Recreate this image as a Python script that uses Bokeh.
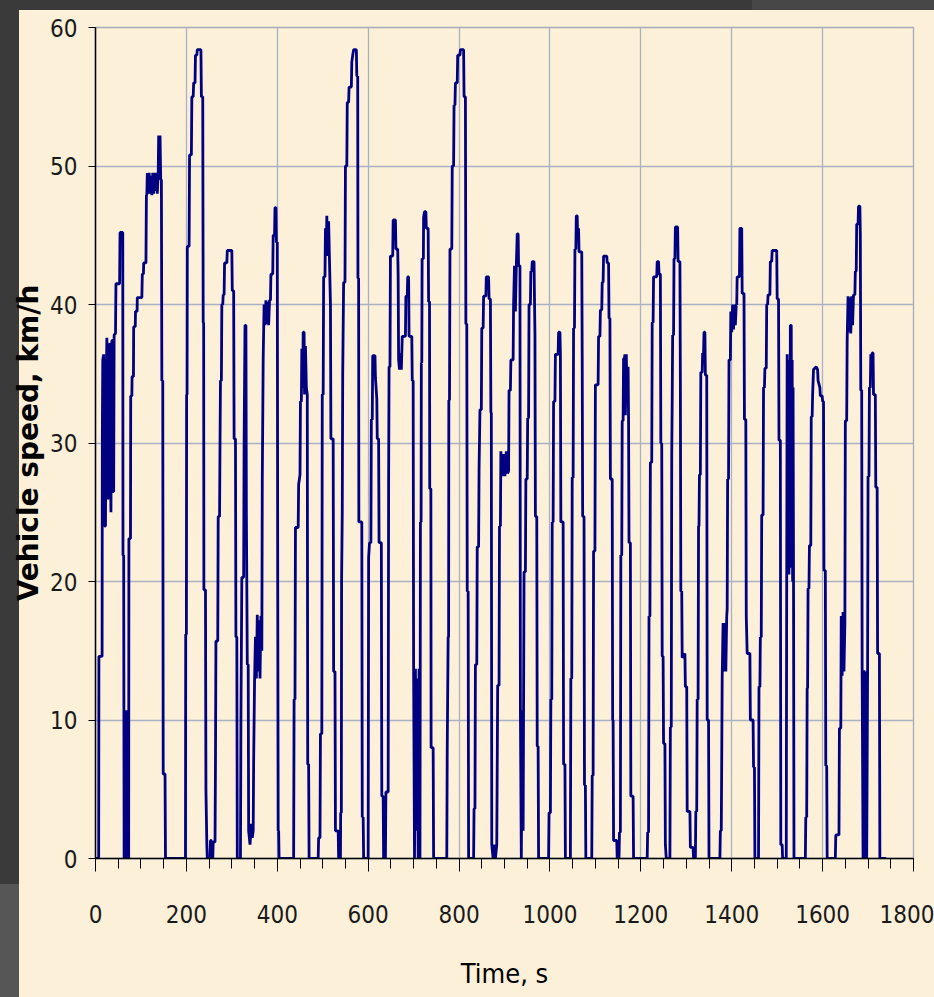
from bokeh.plotting import figure
from bokeh.models import Range1d, FixedTicker
from bokeh.embed import file_html
from bokeh.resources import INLINE

# ---- data: (time s, speed km/h), one list per micro-trip ----
trip01 = [(0,0),(7,0),(7.5,14.6),(14.5,14.6),(15,30.3),(16,36),(18,36.4),(19,30),(20,24),(22,24),(23,33),(25,37.6),(26,34),(27,26),(29,26),(30,37),(32,37.2),(33,28),(34,25),(35,33),(36,37.4),(38,37.4),(39,26.5),(40,26.5),(41,37.8),(44,37.9),(45,41.5),(53,41.5),(54,45.2),(60,45.2),(60.5,21.9),(62,21.9),(62.5,10.7),(63,0),(64.5,10.7),(65.5,0),(67,10.7),(68,0),(69.5,10.7),(70.5,0),(72,10.7),(73,0)]
trip02 = [(73.5,23.1),(77,23.1),(77.5,33.4),(80,33.4),(80.5,34.8),(83.5,34.8),(84,38.4),(87.5,38.4),(88,39.5),(91.5,39.5),(92,40.5),(102,40.5),(103,42.2),(105.5,42.2),(106,43),(111,43),(112,47.9),(113,47.9),(114,49.5),(116,48),(118,49.5),(120,48),(122,49.3),(124,47.9),(126,49.5),(128,48),(130,49.5),(132,48.2),(134,49.5),(136,48),(138,49.5),(139,52.2),(140.5,50),(142,52.2),(143.5,49),(145,49),(146,34.5),(148,34.5),(149,6.1),(153,6.1),(154,0),(198,0)]
trip03 = [(198.5,16.2),(200,16.2),(200.5,33.5),(201.5,33.5),(202,44.2),(206,44.2),(207,50.8),(211,50.8),(212,55),(215,55),(216,56),(219,56),(220,58),(223,58),(224,58.4),(232,58.4),(233,55),(236,55),(237,38.7),(238,38.7),(238.5,19.4),(242,19.4),(243,5),(245,1),(246,0),(252,0),(253,1.3),(255,1.3),(256,0),(258,0)]
trip04 = [(259,1.2),(263,1.2),(264,6.8),(265,15.7),(269,15.7),(270,24.7),(273,24.7),(274,30),(275,34.5),(277,34.5),(278,40),(280,40),(281,40.7),(283,40.7),(284,43),(289,43),(290,43.9),(300,43.9),(301,41),(304,41),(305,30.3),(308,30.3),(309,16),(311,16),(312,0),(319,0)]
trip05 = [(320,10),(322,20.3),(326,20.3),(327,30),(329,38.5),(331,38.5),(332,25),(334,14),(336,14),(337,2),(340,1),(343,2.5),(345,1.5),(347,2),(348,7),(350,12.8),(352,16),(354,13),(356,17.6),(358,13.5),(360,17.2),(362,13),(364,17.5),(366,15),(367,27.2),(369,36.1),(371,40),(373,38.5),(375,40.3),(377,38.6),(379,40.2),(381,38.5),(383,40.3),(385,40.3),(386,42.2),(390,42.2),(391,45),(394,45),(395,47),(397,47),(398,44.5),(400,44.5),(401,20),(402,2),(403,2),(404,0),(436,0)]
trip06 = [(437,11.5),(439,11.5),(440,23.9),(446,23.9),(447,27),(450,27.7),(451,33),(453,33),(454,36.8),(456,34),(457,38),(459,38),(460,33.5),(462,37),(464,34),(466,33.5),(467,6.8),(469,6.8),(470,0),(490,0)]
trip07 = [(491,1.5),(494,1.5),(495,9),(498,9),(499,33.5),(501,33.5),(502,42),(505,42),(506,45.5),(508,44),(509,46.4),(511,43.5),(513,46),(515,43),(517,40),(518,30.3),(523,30.3),(524,13.5),(527,13.5),(528,2),(534,2),(535,0),(539,0)]
trip08 = [(539.5,3.3),(541,3.3),(541.5,20),(543,25),(544,35),(546,41.6),(549,41.6),(550,50),(553,50),(554,54.6),(557,54.6),(558,55.7),(563,55.7),(564,57.5),(566,58),(568,58.4),(574,58.4),(575,56.5),(577,56.5),(577.5,41.9),(579,41.9),(579.5,24.3),(586,24.3),(587,3),(589,3),(590,0),(600,0)]
trip09 = [(601,21.7),(603,22.8),(606,22.8),(607,31.7),(609,31.7),(610,36.3),(615,36.3),(616,34.7),(619,33.2),(620,30.3),(623,30.3),(624,22.8),(629,22.8),(630,4.5),(633,4.5),(634,0),(638,0),(639,4.8),(644,4.8)]
trip10 = [(645,27.2),(646,35.5),(648,35.5),(649,43.5),(654,43.5),(655,46.1),(660,46.1),(661,44),(665,44),(666,42),(667,36),(669,35.3),(671,36.5),(673,35.3),(675,37.7),(682,37.7),(683,40.6),(686,40.6),(687,42),(689,42),(690,37.7),(696,37.7),(697,34.5),(699,34.5),(700,13.7),(702,0),(704,13.7),(706,2),(708,13),(710,0),(712,13.7),(714,0)]
trip11 = [(715,24.3),(716.5,24.3),(717,35.8),(718,35.8),(718.7,43.3),(721.5,43.3),(722,46.3),(724,46.7),(727,46.7),(728,45.5),(732,45.5),(733,40.2),(735,40.2),(735.5,26.7),(738,26.7),(738.5,8),(743,8),(744,0),(773,0)]
trip12 = [(774,8),(776,16),(777,16),(777.5,33.1),(779,33.1),(780,44),(784,44),(785,50),(788,50),(789,54.4),(791,54.4),(792,56),(796,56),(797,58),(802,58),(803,58.4),(810,58.4),(811,55),(814,55),(815,38.6),(817,38.6),(818,19.3),(820,19.3),(821,0),(832,0)]
trip13 = [(833,3.6),(835,3.6),(836,14),(839,14),(840,22.5),(843,22.5),(844,28),(846,32.4),(849,32.4),(850,38.3),(853,38.3),(854,40.6),(859,40.6),(860,42),(865,42),(866,40.4),(869,40.4),(870,32.2),(871,32.2),(872,1),(875,0),(878,1),(880,0),(883,1),(885,12.5),(888,12.5),(889,24),(891,24),(892,29.4),(895,27.6),(898,29.2),(901,27.6),(904,29.4),(907,27.8),(909,28),(910,33.8),(913,33.8),(914,36),(919,36),(920,40),(922,42.8),(924,39.5),(926,42.8),(928,45.1),(930,45.1),(931,42.8),(934,42.8),(935,10.7),(937,0),(939,10.7),(941,2),(943,20.7),(946,20.7),(947,27.4),(950,27.4),(951,31.8),(953,31.8),(954,40),(957,40),(958,42.4),(960,42.4),(961,43.1),(965,43.1),(966,40.4),(967,37.8),(968,24.7),(971,24.7),(972,8.1),(974,8.1),(975,0),(997,0)]
trip14 = [(998,3.3),(1001,3.3),(1002,11.5),(1004,11.5),(1005,24.3),(1007,24.3),(1008,33),(1011,33),(1012,36.4),(1018,36.4),(1019,38),(1022,38),(1023,36.4),(1024,24.3),(1029,24.3),(1030,6.8),(1033,6.8),(1034,0),(1045,0)]
trip15 = [(1046,13),(1048,13),(1049,27.5),(1051,27.5),(1052,38.3),(1054,38.3),(1055,44),(1057,44),(1058,46.4),(1060,46.4),(1061,44.8),(1063,45.5),(1064,43.8),(1070,43.8),(1071,36.1),(1072,24.7),(1075,24.7),(1076,5.3),(1078,5.3),(1079,0),(1092,0)]
trip16 = [(1093,6),(1095,6),(1096,22.2),(1099,22.2),(1100,34.2),(1106,34.2),(1107,37.7),(1110,37.7),(1111,39.6),(1114,39.6),(1115,41.6),(1117,41.6),(1118,43.5),(1125,43.5),(1126,43),(1129,43),(1130,39),(1132,39),(1133,27.4),(1137,27.4),(1138,10),(1139,10),(1140,1.3),(1147,1.3),(1148,0),(1152,0)]
trip17 = [(1153,1.9),(1155,1.9),(1156,21.9),(1158,21.9),(1159,31.6),(1161,31.6),(1162,36.1),(1164,36.1),(1165,36.4),(1166,32),(1168,36.4),(1170,33),(1172,35.5),(1173,31.6),(1174,22.8),(1177,22.8),(1178,4.5),(1183,4.5),(1184,0),(1214,0)]
trip18 = [(1215,1.9),(1217,1.9),(1218,17.5),(1220,17.5),(1221,28.6),(1224,28.6),(1225,38.7),(1227,38.7),(1228,42),(1235,42),(1236,43.1),(1239,43.1),(1240,42.2),(1243,42.2),(1244,30),(1246,30),(1247,14.6),(1249,14.6),(1250,8.3),(1253,8.3),(1254,1),(1256,0),(1264,0)]
trip19 = [(1265,9.5),(1267,9.5),(1268,29),(1269,33),(1270,37.8),(1272,37.8),(1273,43.3),(1275,43.3),(1276,45.6),(1281,45.6),(1282,43.1),(1286,43.1),(1287,34.5),(1288,19.3),(1290,19.3),(1291,14.5),(1297,14.8),(1298,12.4),(1301,12.4),(1302,3.4),(1308,3.4),(1309,0.8),(1315,0.8),(1316,0),(1320,0)]
trip20 = [(1321,3.4),(1323,3.4),(1324,11.5),(1326,11.5),(1327,24),(1328,24),(1329,27.7),(1331,27.7),(1332,35.1),(1335,35.1),(1336,36.5),(1338,36.5),(1339,38),(1341,38),(1342,34.9),(1345,34.9),(1346,10),(1349,10),(1350,0),(1374,0)]
trip21 = [(1375,2),(1377,2),(1378,7.2),(1379,13),(1381,17),(1383,13.5),(1385,17),(1387,13.5),(1389,17.5),(1390,18),(1391,27.4),(1393,27.4),(1394,36),(1397,36),(1398,39.5),(1400,38),(1402,40),(1404,38.2),(1406,40),(1408,38.5),(1410,40),(1411,40),(1412,42),(1417,42),(1418,45.5),(1422,45.5),(1423,40.8),(1427,40.8),(1428,31.7),(1431,31.7),(1432,17.5),(1434,14.8),(1440,14.8),(1441,10),(1447,10),(1448,6.6),(1450,6.6),(1451,0),(1459,0)]
trip22 = [(1460,12.4),(1462,12.4),(1463,16),(1465,16),(1466,24.8),(1469,24.8),(1470,34),(1472,34),(1473,35.4),(1476,35.4),(1477,40),(1479,40),(1480,40.7),(1484,40.7),(1485,43.1),(1488,43.1),(1489,43.9),(1499,43.9),(1500,40.4),(1503,40.4),(1504,30.2),(1507,30.2),(1508,1),(1511,1),(1512,0),(1520,0)]
trip23 = [(1521,20),(1522,36.4),(1524,22),(1525,36),(1526,20.5),(1527,35.5),(1528,21),(1529,38.5),(1531,38.5),(1532,21),(1533,36),(1534,20),(1535,34),(1536,20),(1537,0),(1562,0)]
trip24 = [(1563,3),(1565,3),(1566,12.3),(1567,12.3),(1568,19.5),(1570,19.5),(1571,22.6),(1574,22.6),(1575,31.9),(1577,31.9),(1578,33.5),(1580,35.3),(1586,35.5),(1589,35.3),(1590,34.5),(1594,34),(1595,33.4),(1599,33.4),(1600,33),(1602,33),(1603,20.8),(1606,20.8),(1607,6.7),(1609,6.7),(1610,0),(1628,0)]
trip25 = [(1629,1.7),(1636,1.7),(1637,9.4),(1640,9.4),(1641,17.5),(1643,13.2),(1645,17.8),(1647,13.5),(1649,17),(1650,31.6),(1653,31.6),(1654,37.3),(1656,40.6),(1658,38),(1660,40.5),(1662,37.9),(1664,40.6),(1666,38.5),(1668,40.7),(1671,40.7),(1672,42.4),(1674,42.4),(1675,45.8),(1678,45.8),(1679,47.1),(1682,47.1),(1683,45),(1684,33.8),(1686,33.8),(1687,13.6),(1689,0),(1691,13.6),(1693,0),(1695,13.5),(1697,0),(1699,13.6)]
trip26 = [(1700,27.6),(1702,27.6),(1703,34),(1705,34),(1706,36.4),(1708,35),(1709,36.5),(1711,36.5),(1712,33.5),(1716,33.5),(1717,26.8),(1720,26.8),(1721,14.8),(1725,14.8),(1726,0),(1740,0)]

x_tick_values = [0, 200, 400, 600, 800, 1000, 1200, 1400, 1600, 1800]
x_tick_labels = ["0", "200", "400", "600", "800", "1000", "1200", "1400", "1600", "1800"]
x_minor_values = list(range(0, 1801, 50))
y_tick_values = [0, 10, 20, 30, 40, 50, 60]
y_tick_labels = ["0", "10", "20", "30", "40", "50", "60"]

trips = [trip01, trip02, trip03, trip04, trip05, trip06, trip07, trip08, trip09, trip10,
         trip11, trip12, trip13, trip14, trip15, trip16, trip17, trip18, trip19, trip20,
         trip21, trip22, trip23, trip24, trip25, trip26]
time_s = [pt[0] for tr in trips for pt in tr]
speed_kmh = [pt[1] for tr in trips for pt in tr]

BEIGE = "#fcf0d9"
NARROW = "DejaVu Sans Condensed, Liberation Sans, sans-serif"

p = figure(width=934, height=997, output_backend="svg", toolbar_location=None,
           x_range=Range1d(0, 1800), y_range=Range1d(0, 60),
           min_border_left=95, min_border_right=21, min_border_top=27, min_border_bottom=139)
p.border_fill_color = None
p.background_fill_color = BEIGE
p.outline_line_color = "#a4acbc"
p.outline_line_width = 1.3
p.styles = {
    "background": (
        "linear-gradient(#474747,#474747) 752px 0 / 182px 10px no-repeat, "
        "linear-gradient(#3a3a3a,#3a3a3a) 0 0 / 934px 10px no-repeat, "
        "linear-gradient(#565656,#565656) 0 884px / 19px 113px no-repeat, "
        "linear-gradient(#3a3a3a,#3a3a3a) 0 0 / 19px 997px no-repeat, "
        + BEIGE
    )
}

p.line(time_s, speed_kmh, line_color="#000080", line_width=2.8)

for g in (p.xgrid, p.ygrid):
    g.grid_line_color = "#a9b1c3"
    g.grid_line_width = 1.3

xa = p.xaxis[0]
xa.ticker = FixedTicker(ticks=x_tick_values, minor_ticks=x_minor_values)
xa.major_label_overrides = {v: s for v, s in zip(x_tick_values, x_tick_labels)}
xa.major_tick_in = 0
xa.major_tick_out = 13
xa.minor_tick_in = 0
xa.minor_tick_out = 10
xa.major_label_standoff = 33
xa.axis_line_color = "#000000"
xa.axis_line_width = 1.5
xa.major_tick_line_color = "#000000"
xa.minor_tick_line_color = "#000000"
xa.major_label_text_font = NARROW
xa.major_label_text_font_size = "24px"
xa.major_label_text_color = "#1a1a1a"
xa.axis_label = "Time, s"
xa.axis_label_text_font = NARROW
xa.axis_label_text_font_style = "normal"
xa.axis_label_text_font_size = "27px"
xa.axis_label_text_color = "#000000"
xa.axis_label_standoff = 32

ya = p.yaxis[0]
ya.ticker = FixedTicker(ticks=y_tick_values, minor_ticks=[])
ya.major_label_overrides = {v: s for v, s in zip(y_tick_values, y_tick_labels)}
ya.major_tick_in = 0
ya.major_tick_out = 7
ya.minor_tick_line_color = None
ya.major_label_standoff = 11
ya.axis_line_color = "#000000"
ya.axis_line_width = 1.5
ya.major_tick_line_color = "#000000"
ya.major_label_text_font = NARROW
ya.major_label_text_font_size = "24px"
ya.major_label_text_color = "#1a1a1a"
ya.axis_label = "Vehicle speed, km/h"
ya.axis_label_text_font = "DejaVu Sans"
ya.axis_label_text_font_style = "bold"
ya.axis_label_text_font_size = "28px"
ya.axis_label_text_color = "#000000"
ya.axis_label_standoff = 2

open("out.html", "w").write(file_html(p, INLINE))
